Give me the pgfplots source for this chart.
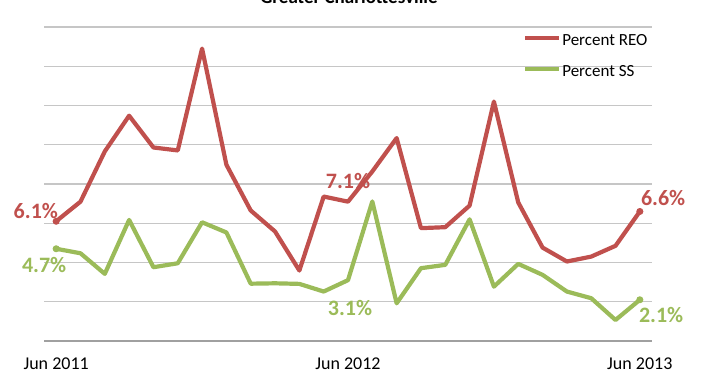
\documentclass[border=0pt]{standalone}
\usepackage{pgfplots}
\pgfplotsset{compat=1.18}
\usepackage{fontspec}
\setmainfont{Carlito}
\definecolor{reo}{RGB}{192,80,77}
\definecolor{ss}{RGB}{155,187,89}
\definecolor{gridgray}{RGB}{198,198,198}
\definecolor{axisgray}{RGB}{160,160,160}
\begin{document}
\begin{tikzpicture}[x=1pt,y=1pt]
\begin{axis}[
  at={(44pt,33pt)}, anchor=south west,
  scale only axis, width=608pt, height=314pt,
  xmin=-0.5, xmax=24.5, ymin=0, ymax=16,
  ytick={0,2,...,16}, yticklabels={},
  ymajorgrids, grid style={color=gridgray, line width=1.1pt},
  xtick={0,12,24}, xticklabels={Jun 2011,Jun 2012,Jun 2013},
  major tick length=0pt,
  axis lines*=left,
  y axis line style={draw=none},
  x axis line style={color=axisgray, line width=1.8pt},
  xticklabel style={font=\fontsize{18}{20}\selectfont, anchor=base, inner sep=0pt, yshift=-29pt, text=black},
  clip=false,
  legend cell align=left,
  legend style={at={(0.788,0.9825)}, anchor=north west, draw=none, fill=none,
    inner sep=0pt, row sep=13pt, column sep=0pt,
    font=\fontsize{17}{17}\selectfont,
    nodes={inner sep=1pt, text height=12pt, text depth=4pt}},
  legend image code/.code={\draw[#1, line width=4pt] (0pt,4pt) -- (34pt,4pt);},
]
\addplot[color=reo, line width=4.2pt, line join=round, mark=*, mark indices={1,25}, mark size=3pt, mark options={line width=1pt, fill=reo}]
 coordinates {(0,6.1)(1,7.1)(2,9.66)(3,11.48)(4,9.86)(5,9.71)(6,14.9)(7,8.98)(8,6.65)(9,5.58)(10,3.59)(11,7.36)(12,7.1)(13,8.64)(14,10.34)(15,5.75)(16,5.8)(17,6.9)(18,12.2)(19,7.06)(20,4.76)(21,4.05)(22,4.3)(23,4.85)(24,6.6)};
\addlegendentry{Percent REO}
\addplot[color=ss, line width=4.2pt, line join=round, mark=*, mark indices={1,25}, mark size=3pt, mark options={line width=1pt, fill=ss}]
 coordinates {(0,4.7)(1,4.47)(2,3.42)(3,6.17)(4,3.76)(5,3.96)(6,6.05)(7,5.53)(8,2.92)(9,2.94)(10,2.91)(11,2.52)(12,3.1)(13,7.11)(14,1.92)(15,3.71)(16,3.88)(17,6.2)(18,2.77)(19,3.93)(20,3.37)(21,2.52)(22,2.18)(23,1.07)(24,2.1)};
\addlegendentry{Percent SS}
\tikzset{lbl/.style={inner sep=0pt, font=\fontsize{22}{22}\selectfont\bfseries}}
\node[lbl, text=reo, anchor=base east, xshift=2pt, yshift=3pt] at (axis cs:0,6.1) {6.1\%};
\node[lbl, text=ss, anchor=base, xshift=-12pt, yshift=-24pt] at (axis cs:0,4.7) {4.7\%};
\node[lbl, text=reo, anchor=base, yshift=13pt] at (axis cs:12,7.1) {7.1\%};
\node[lbl, text=ss, anchor=base, xshift=2pt, yshift=-35pt] at (axis cs:12,3.1) {3.1\%};
\node[lbl, text=reo, anchor=base west, xshift=1pt, yshift=6pt] at (axis cs:24,6.6) {6.6\%};
\node[lbl, text=ss, anchor=base west, xshift=-1pt, yshift=-23pt] at (axis cs:24,2.1) {2.1\%};
\end{axis}
\node[anchor=base, font=\fontsize{19}{19}\selectfont\bfseries] at (349pt,370pt) {Greater Charlottesville};
\pgfresetboundingbox
\useasboundingbox (0pt,0pt) rectangle (702pt,374pt);
\end{tikzpicture}
\end{document}
